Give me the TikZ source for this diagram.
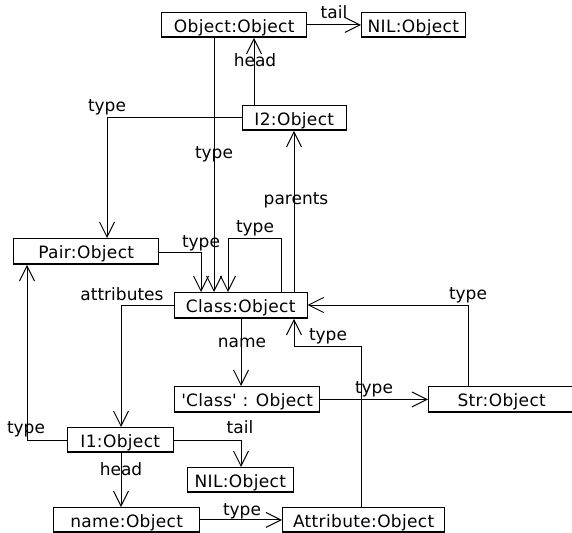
\documentclass[tikz,border=0pt]{standalone}
\usepackage{fontspec}
\setmainfont{DejaVu Sans}
\usetikzlibrary{arrows.meta}
\tikzset{
  box/.style={draw, line width=1bp, inner sep=0pt, anchor=north west,
    font=\fontsize{17bp}{20bp}\selectfont\addfontfeature{LetterSpace=2}, text height=15bp, text depth=0bp,
    path picture={\draw[line width=3.5bp] (path picture bounding box.south west) -- (path picture bounding box.south east);}},
  lbl/.style={inner sep=0pt, anchor=base, font=\fontsize{17bp}{20bp}\selectfont},
  arr/.style={line width=1bp, -{Straight Barb[length=15bp,width=15bp,line width=1bp]}},
}
\newcommand{\mkbox}[6]{%
  \node[box, minimum width=#4-#2, minimum height=#5-#3] (#1) at (#2,#3) {#6};}
\begin{document}
\begin{tikzpicture}[x=1bp,y=-1bp]
\useasboundingbox (0,0) rectangle (572,533);
\mkbox{obj}{161}{12}{307}{37}{Object:Object}
\mkbox{nila}{361}{12}{465}{37}{NIL:Object}
\mkbox{itwo}{242}{105}{346}{130}{I2:Object}
\mkbox{pair}{13}{238}{159}{264}{Pair:Object}
\mkbox{cls}{174}{292}{307}{318}{Class:Object}
\mkbox{clsstr}{174}{386}{320}{412}{\textquotesingle Class\textquotesingle{} : Object}
\mkbox{str}{428}{386}{575}{412}{Str:Object}
\mkbox{ione}{67}{427}{173}{452}{I1:Object}
\mkbox{nilb}{187}{467}{293}{492}{NIL:Object}
\mkbox{nm}{53}{507}{200}{532}{name:Object}
\mkbox{attr}{282}{507}{445}{532}{Attribute:Object}

% tail Object -> NIL
\draw[arr] (obj.east) -- (nila.west);
\node[lbl] (l1) at (334,19) {tail};
% head I2 -> Object
\draw[arr] (itwo.north -| 254,0) -- (obj.south -| 254,0);
\node[lbl] (l2) at (255,67) {head};
% type I2 -> Pair
\coordinate (c3) at (107,118);
\draw[arr] (itwo.west |- c3) -- (c3) -- (pair.north -| c3);
\node[lbl] (l3) at (107,112) {type};
% type Object -> Class
\draw[arr] (obj.south -| 214,0) -- (cls.north -| 214,0);
\node[lbl] (l4) at (214,159) {type};
% type Pair -> Class
\coordinate (c5) at (201,252);
\draw[arr] (pair.east |- c5) -- (c5) -- (cls.north -| c5);
\node[lbl] (l5) at (201,247) {type};
% self loop
\coordinate (c6a) at (281,238);
\coordinate (c6b) at (228,238);
\draw[arr] (cls.north -| c6a) -- (c6a) -- (c6b) -- (cls.north -| c6b);
\node[lbl] (l6) at (255,232) {type};
% parents
\draw[arr] (cls.north -| 294,0) -- (itwo.south -| 294,0);
\node[lbl] (l7) at (296,205) {parents};
% type Str -> Class
\coordinate (c8) at (468,305);
\draw[arr] (str.north -| c8) -- (c8) -- (cls.east |- c8);
\node[lbl] (l8) at (468,299) {type};
% name
\draw[arr] (cls.south -| 241,0) -- (clsstr.north -| 241,0);
\node[lbl] (l9) at (242,347) {name};
% type Attribute -> Class
\coordinate (c10a) at (361,346);
\coordinate (c10b) at (294,346);
\draw[arr] (attr.north -| c10a) -- (c10a) -- (c10b) -- (cls.south -| c10b);
\node[lbl] (l10) at (328,340) {type};
% type 'Class' -> Str
\draw[arr] (clsstr.east) -- (str.west);
\node[lbl] (l11) at (374,393) {type};
% type I1 -> Pair
\coordinate (c12) at (27,440);
\draw[arr] (ione.west |- c12) -- (c12) -- (pair.south -| c12);
\node[lbl] (l12) at (26,433) {type};
% attributes
\coordinate (c13) at (121,305);
\draw[arr] (cls.west |- c13) -- (c13) -- (ione.north -| c13);
\node[lbl] (l13) at (122,300) {attributes};
% tail I1 -> NIL
\coordinate (c14) at (241,440);
\draw[arr] (ione.east |- c14) -- (c14) -- (nilb.north -| c14);
\node[lbl] (l14) at (240,433) {tail};
% head I1 -> name
\draw[arr] (ione.south -| 121,0) -- (nm.north -| 121,0);
\node[lbl] (l15) at (121,475) {head};
% type name -> Attribute
\draw[arr] (nm.east) -- (attr.west);
\node[lbl] (l16) at (242,515) {type};
\end{tikzpicture}
\end{document}
